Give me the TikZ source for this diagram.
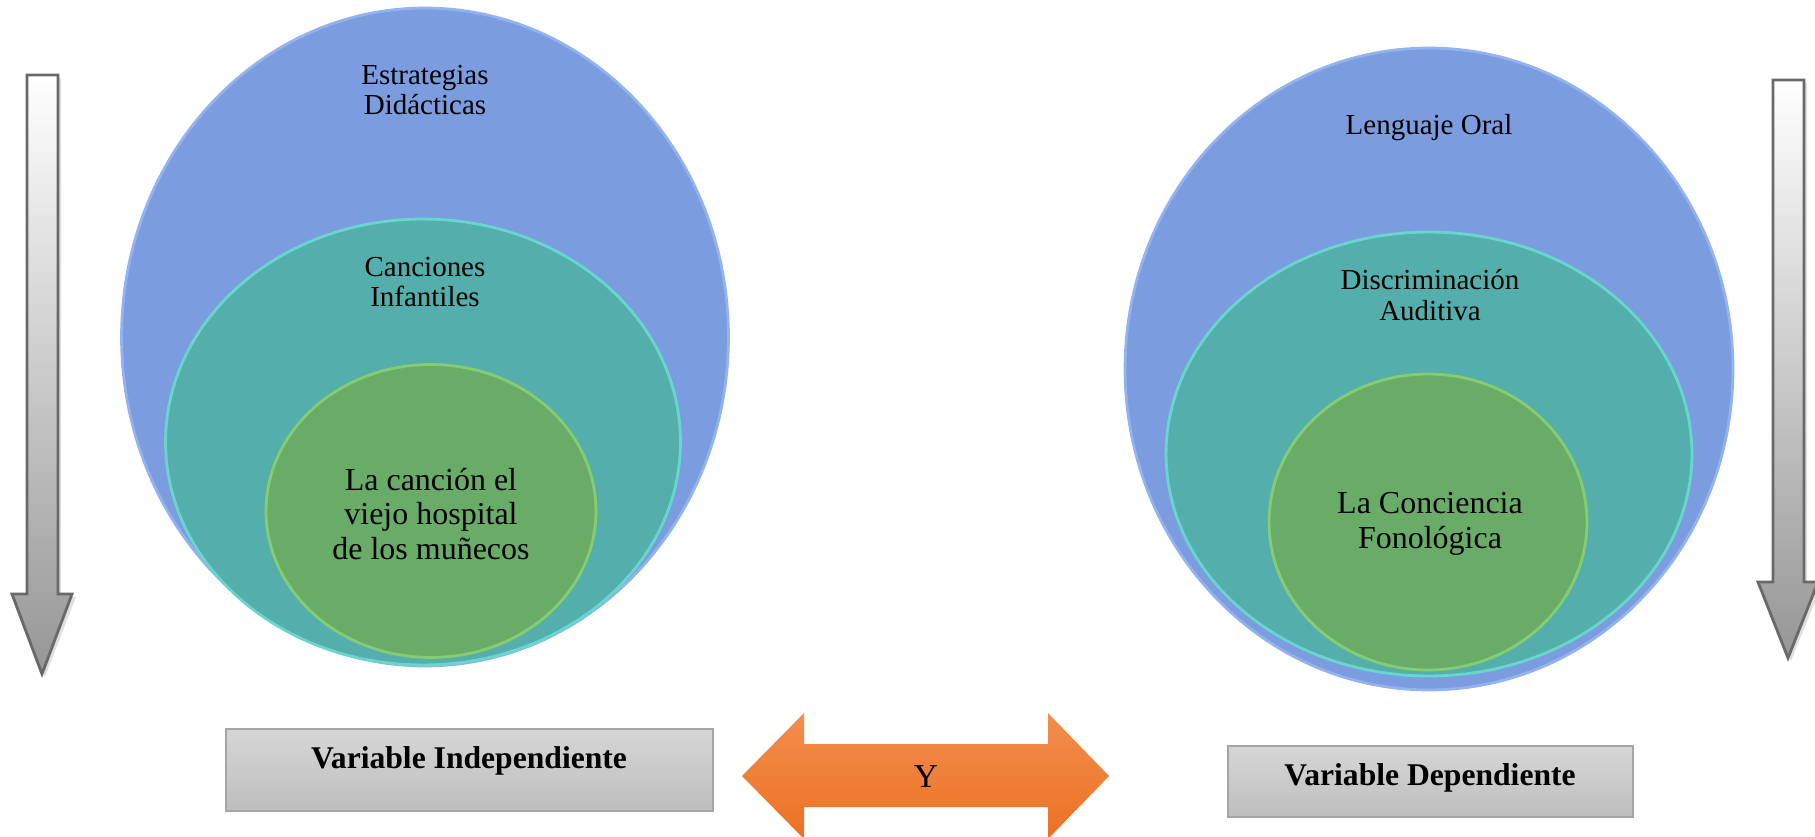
\documentclass[tikz,border=0pt]{standalone}
\usepackage{fontspec}
\setmainfont{Liberation Serif}
\usepackage{tikz}
\usetikzlibrary{shapes.geometric}
\definecolor{outerfill}{RGB}{123,156,222}
\definecolor{outeredge}{RGB}{146,178,240}
\definecolor{midfill}{RGB}{84,174,172}
\definecolor{midedge}{RGB}{104,214,204}
\definecolor{innerfill}{RGB}{104,172,104}
\definecolor{inneredge}{RGB}{134,204,112}
\definecolor{boxtop}{RGB}{214,214,214}
\definecolor{boxbot}{RGB}{190,190,190}
\definecolor{boxedge}{RGB}{165,165,165}
\definecolor{ytop}{RGB}{242,142,78}
\definecolor{ybot}{RGB}{236,112,34}
\definecolor{downfill}{RGB}{150,150,150}
\definecolor{downedge}{RGB}{105,105,105}
\tikzset{blob/.style={ellipse, inner sep=0pt, line width=1.6pt},
         outerblob/.style={blob, fill=outerfill, draw=outeredge},
         midblob/.style={blob, fill=midfill, draw=midedge},
         innerblob/.style={blob, fill=innerfill, draw=inneredge},
         smalltxt/.style={align=center, font=\fontsize{16.5}{17.5}\selectfont},
         bigtxt/.style={align=center, font=\fontsize{18.2}{19.8}\selectfont},
         varbox/.style={draw=boxedge, line width=0.9pt, top color=boxtop,
                        bottom color=boxbot, inner sep=0pt},
         vartxt/.style={font=\bfseries\fontsize{18}{20}\selectfont},
         downarrow/.style={top color=white, bottom color=downfill,
                           draw=downedge, line width=1.6pt}}

\begin{document}
\begin{tikzpicture}[x=0.02cm, y=-0.02cm]
\useasboundingbox (0,0) rectangle (1815,837);

% left side
\node[outerblob, minimum width=12.14cm, minimum height=13.16cm] (estr) at (425,337) {};
\node[midblob, minimum width=10.3cm, minimum height=8.92cm] (canc) at (423,442) {};
\node[innerblob, minimum width=6.6cm, minimum height=5.86cm] (hosp) at (431,511) {};
\node[smalltxt] (estrtxt) at (425,90) {Estrategias\\Didácticas};
\node[smalltxt] (canctxt) at (425,282) {Canciones\\Infantiles};
\node[bigtxt] (hosptxt) at (431,514) {La canción el\\viejo hospital\\de los muñecos};

% right side
\node[outerblob, minimum width=12.16cm, minimum height=12.84cm] (leng) at (1429,369) {};
\node[midblob, minimum width=10.52cm, minimum height=8.88cm] (disc) at (1429,454) {};
\node[innerblob, minimum width=6.36cm, minimum height=5.92cm] (conc) at (1428,522) {};
\node[smalltxt] (lengtxt) at (1429,128) {Lenguaje Oral};
\node[smalltxt] (disctxt) at (1430,295) {Discriminación\\Auditiva};
\node[bigtxt] (conctxt) at (1430,524) {La Conciencia\\Fonológica};

% down arrows
\foreach \ax/\top/\neck/\tip in {42/75/594/674, 1788/80/582/658}{
  \fill[black, opacity=0.12] (\ax-12,\top+3) -- (\ax+19,\top+3) -- (\ax+19,\neck+3)
     -- (\ax+34,\neck+3) -- (\ax+3,\tip+3) -- (\ax-28,\neck+3) -- (\ax-12,\neck+3) -- cycle;
  \shade[downarrow] (\ax-15,\top) -- (\ax+16,\top) -- (\ax+16,\neck)
     -- (\ax+30,\neck) -- (\ax,\tip) -- (\ax-30,\neck) -- (\ax-15,\neck) -- cycle;
}

% bottom row
\node[varbox, minimum width=9.74cm, minimum height=1.64cm] (indep) at (469.5,770) {};
\node[vartxt] (indeptxt) at (469,761) {Variable Independiente};
\node[varbox, minimum width=8.1cm, minimum height=1.42cm] (dep) at (1430.5,781.5) {};
\node[vartxt] (deptxt) at (1430,778) {Variable Dependiente};
\shade[top color=ytop, bottom color=ybot] (742,776) -- (804,713) -- (804,744) -- (1048,744)
   -- (1048,713) -- (1109,776) -- (1048,839) -- (1048,807) -- (804,807) -- (804,839) -- cycle;
\node[font=\fontsize{19}{21}\selectfont] (y) at (926,777) {Y};

\end{tikzpicture}
\end{document}
